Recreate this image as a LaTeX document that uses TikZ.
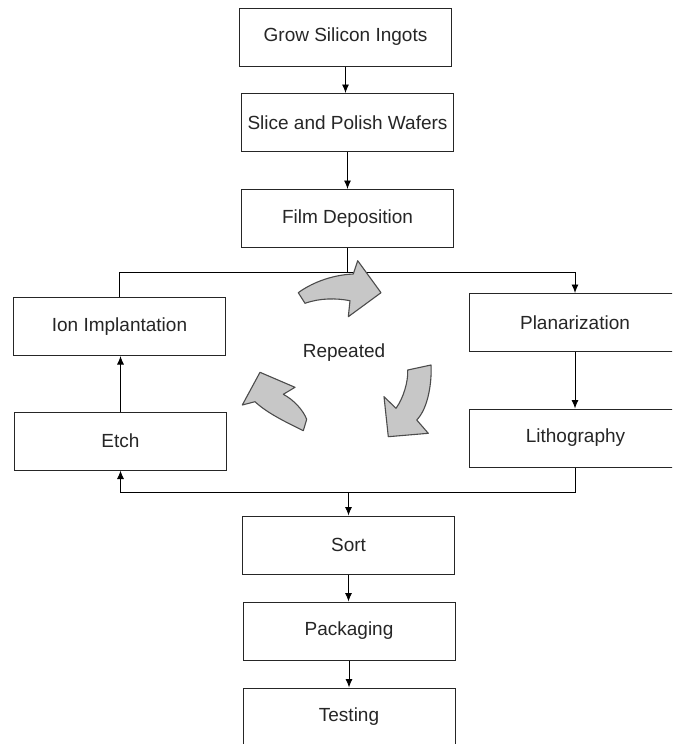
\documentclass[tikz,border=0pt]{standalone}
\usepackage{fontspec}
\setmainfont{Liberation Sans}
\usetikzlibrary{arrows.meta}
\begin{document}
\begin{tikzpicture}[x=1pt,y=-1pt,
  stepbox/.style={draw=black!85, line width=1pt, minimum width=212pt,
    minimum height=58pt, inner sep=0pt,
    font=\fontsize{19}{22}\selectfont, text=black!85},
  flow/.style={draw=black, line width=0.9pt, -{Latex[length=8.5pt,width=7pt]}},
  link/.style={draw=black, line width=0.9pt},
  cyc/.style={fill=black!22, draw=black!70, line width=1.1pt, line join=round}]
\clip (0,0) rectangle (672,744);
\fill[white] (0,0) rectangle (672,744);

% main process steps
\node[stepbox] (grow)  at (345.5,37)    {Grow Silicon Ingots};
\node[stepbox] (slice) at (347.5,122.5) {Slice and Polish Wafers};
\node[stepbox] (film)  at (347.5,218.5) {Film Deposition};
\node[stepbox] (ion)   at (119.5,326.5) {Ion Implantation};
\node[stepbox] (etch)  at (120.5,441)   {Etch};
\node[stepbox] (plan)  at (575,322.5)   {Planarization};
\node[stepbox] (litho) at (575.5,438)   {Lithography};
\node[stepbox] (sort)  at (348.5,545)   {Sort};
\node[stepbox] (pack)  at (349,631)     {Packaging};
\node[stepbox] (test)  at (349,717)     {Testing};

\node[font=\fontsize{19}{22}\selectfont, text=black!85] (rep) at (344,353) {Repeated};

% connectors
\coordinate (split) at (347.5,272);
\coordinate (merge) at (348.5,492);
\draw[flow] (grow.south) -- (grow.south |- slice.north);
\draw[flow] (slice.south) -- (slice.south |- film.north);
\draw[link] (film.south) -- (split);
\draw[link] (split) -| (ion.north);
\draw[flow] (split) -| (plan.north);
\draw[flow] (plan.south) -- (plan.south |- litho.north);
\draw[flow] (etch.north) -- (etch.north |- ion.south);
\draw[link] (litho.south) |- (merge);
\draw[flow] (merge) -| (etch.south);
\draw[flow] (merge) -- (merge |- sort.north);
\draw[flow] (sort.south) -- (sort.south |- pack.north);
\draw[flow] (pack.south) -- (pack.south |- test.north);

% cycle arrows around the repeated loop
\draw[cyc] (298.3,292.7) .. controls (310,284) and (330,275) .. (353.3,274)
  -- (357.7,260.7) -- (381,292.7) -- (348.3,316.7) -- (350,300.7)
  .. controls (336,298) and (320,298) .. (305,303.3) -- cycle;
\draw[cyc] (407.7,370) -- (431,365)
  .. controls (432,381.7) and (428.3,408.3) .. (416.7,420)
  -- (428.3,433.3) -- (388.3,436.7) -- (384,396.7) -- (396,408.3)
  .. controls (403.3,398.3) and (408.3,381.7) .. (407.7,370) -- cycle;
\draw[cyc] (260,372.3) -- (295,387.3) -- (283.3,394.3)
  .. controls (294,400) and (303,410) .. (306.7,419.3)
  -- (303.3,430.7)
  .. controls (290,424) and (268,414) .. (255,401.7)
  -- (242.3,405) -- cycle;
\end{tikzpicture}
\end{document}
